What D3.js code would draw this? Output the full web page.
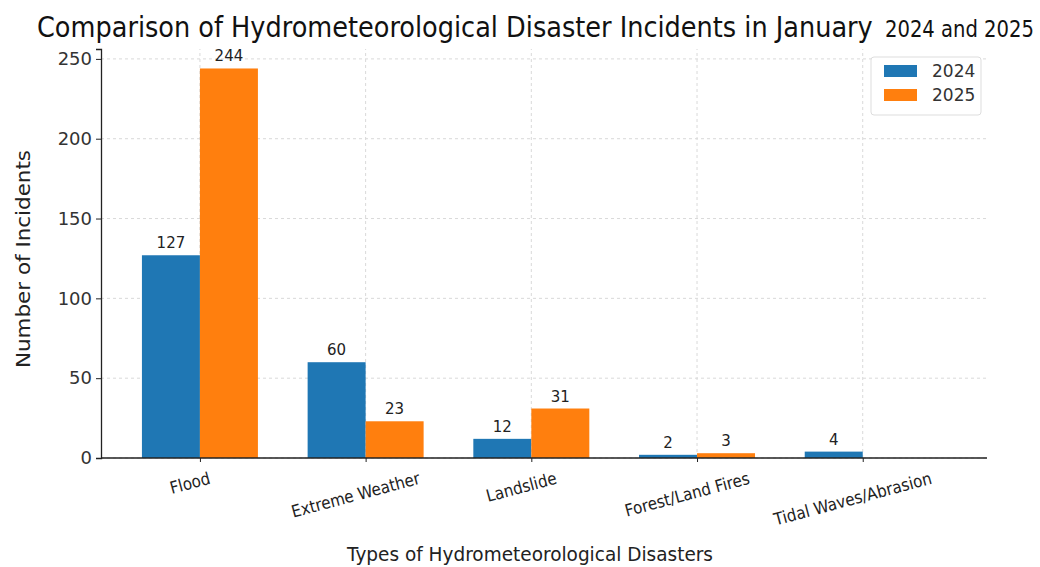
<!DOCTYPE html>
<html>
<head>
<meta charset="utf-8">
<script src="https://cdn.jsdelivr.net/npm/d3@7"></script>
<style>
  html, body { margin: 0; padding: 0; background: #fff; }
  svg { display: block; font-family: "DejaVu Sans", sans-serif; }
</style>
</head>
<body>
<svg id="chart" width="1040" height="567"></svg>
<script>
// Data
const categories = ["Flood", "Extreme Weather", "Landslide", "Forest/Land Fires", "Tidal Waves/Abrasion"];
const values2024 = [127, 60, 12, 2, 4];
const values2025 = [244, 23, 31, 3, 0];
const seriesNames = ["2024", "2025"];
const yTicks = [0, 50, 100, 150, 200, 250];

const colors = ["#1f77b4", "#ff7f0e"];
const barWidth = 0.35;

const svg = d3.select("#chart");

// Scales: category index on a continuous axis so bars sit either side of each tick
const x = d3.scaleLinear().domain([-0.597, 4.75]).range([101, 987]);
const y = d3.scaleLinear().domain([0, 256.2]).range([458, 49]);

// Grid lines
const grid = svg.append("g").attr("stroke", "#d9d9d9").attr("stroke-dasharray", "3,3").attr("stroke-width", 1);
grid.selectAll(".hg").data(yTicks).join("line")
  .attr("x1", x.range()[0]).attr("x2", x.range()[1])
  .attr("y1", d => y(d)).attr("y2", d => y(d));
grid.selectAll(".vg").data(categories).join("line")
  .attr("x1", (d, i) => x(i)).attr("x2", (d, i) => x(i))
  .attr("y1", y.range()[0]).attr("y2", y.range()[1]);

// Bars with value labels
const series = [values2024, values2025];
series.forEach((vals, s) => {
  const g = svg.append("g");
  g.selectAll("rect").data(vals).join("rect")
    .attr("x", (d, i) => x(i + (s === 0 ? -barWidth : 0)))
    .attr("width", x(barWidth) - x(0))
    .attr("y", d => y(d))
    .attr("height", d => y(0) - y(d))
    .attr("fill", colors[s]);
  g.selectAll("text").data(vals).join("text")
    .filter(d => d > 0)
    .attr("x", (d, i) => x(i + (s === 0 ? -barWidth / 2 : barWidth / 2)))
    .attr("y", d => y(d) - 7)
    .attr("text-anchor", "middle")
    .attr("font-size", 15)
    .attr("fill", "#222")
    .text(d => d);
});

// Y axis
const yAxis = d3.axisLeft(y).tickValues(yTicks).tickSize(5).tickPadding(4);
const yg = svg.append("g").attr("transform", `translate(${x.range()[0]},0)`).call(yAxis);
yg.select(".domain").attr("stroke", "#222").attr("stroke-width", 1.3);
yg.selectAll(".tick line").attr("stroke", "#222");
yg.selectAll(".tick text").attr("font-size", 18).attr("fill", "#333")
  .attr("font-family", "DejaVu Sans");

// X axis
const xAxis = d3.axisBottom(x).tickValues(d3.range(categories.length)).tickSize(4).tickFormat("");
const xg = svg.append("g").attr("transform", `translate(0,${y(0)})`).call(xAxis);
xg.select(".domain").attr("stroke", "#222").attr("stroke-width", 1.3).attr("d", `M${x.range()[0]},0H${x.range()[1]}`);
xg.selectAll(".tick line").attr("stroke", "#222");

// Rotated category labels, top of each rotated box just under the axis
const ang = 15 * Math.PI / 180;
const sin = Math.sin(ang), cos = Math.cos(ang);
categories.forEach((c, i) => {
  const t = svg.append("text")
    .attr("font-size", 17).attr("fill", "#222")
    .attr("text-anchor", "middle").attr("dominant-baseline", "central")
    .text(c);
  const bb = t.node().getBBox();
  const w = bb.width * 0.89, h = bb.height;
  t.attr("textLength", w).attr("lengthAdjust", "spacingAndGlyphs");
  const bh = w * sin + h * cos;
  t.attr("transform", `translate(${x(i) - 10},${468 + bh / 2}) rotate(-15)`);
});

// Title: main phrase plus the slightly smaller years, each squeezed to its width
function fitText(str, left, base, size, width) {
  const t = svg.append("text").attr("fill", "#111")
    .attr("font-family", "'DejaVu Sans Condensed', 'DejaVu Sans', sans-serif")
    .attr("font-size", size).text(str);
  const sx = width / t.node().getComputedTextLength();
  t.attr("transform", `translate(${left},${base}) scale(${sx},1)`);
  return t;
}
fitText("Comparison of Hydrometeorological Disaster Incidents in January", 37, 37, 29, 836);
fitText("2024 and 2025", 885, 37, 23, 149);

// Axis titles
svg.append("text")
  .attr("transform", "translate(30,259) rotate(-90)")
  .attr("text-anchor", "middle").attr("font-size", 19).attr("fill", "#222")
  .attr("textLength", 218).attr("lengthAdjust", "spacingAndGlyphs")
  .text("Number of Incidents");
svg.append("text")
  .attr("x", 530).attr("y", 561)
  .attr("text-anchor", "middle").attr("font-size", 20).attr("fill", "#222")
  .attr("textLength", 366).attr("lengthAdjust", "spacingAndGlyphs")
  .text("Types of Hydrometeorological Disasters");

// Legend
const lg = svg.append("g").attr("transform", "translate(871,57)");
lg.append("rect").attr("width", 110).attr("height", 58).attr("rx", 3)
  .attr("fill", "#fff").attr("stroke", "#ddd");
seriesNames.forEach((n, i) => {
  lg.append("rect").attr("x", 13).attr("y", 8 + i * 24).attr("width", 33).attr("height", 12).attr("fill", colors[i]);
  lg.append("text").attr("x", 61).attr("y", 20 + i * 24).attr("font-size", 17).attr("fill", "#333").text(n);
});
</script>
</body>
</html>
